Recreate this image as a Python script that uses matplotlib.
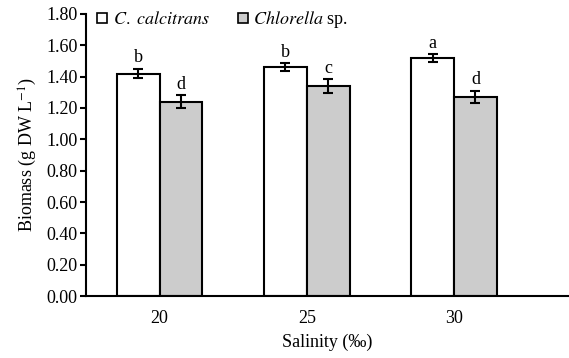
import numpy as np
import matplotlib.pyplot as plt
from matplotlib.lines import Line2D

plt.rcParams['font.family'] = ['Liberation Serif', 'DejaVu Serif']
plt.rcParams['mathtext.fontset'] = 'stix'

salinity = ['20', '25', '30']
calcitrans = [1.42, 1.46, 1.52]
calcitrans_err = [0.03, 0.025, 0.025]
chlorella = [1.24, 1.34, 1.27]
chlorella_err = [0.04, 0.045, 0.04]
calcitrans_letters = ['b', 'b', 'a']
chlorella_letters = ['d', 'c', 'd']

fig = plt.figure(figsize=(5.69, 3.58), dpi=100)
ax = fig.add_axes([0.151, 0.173, 0.849, 0.788])

x = np.arange(len(salinity))
w = 0.29
err_kw = dict(ecolor='black', elinewidth=1.5, capsize=3.5, capthick=1.5)
ax.bar(x - w / 2, calcitrans, w, yerr=calcitrans_err, color='white',
       edgecolor='black', linewidth=1.5, error_kw=err_kw)
ax.bar(x + w / 2, chlorella, w, yerr=chlorella_err, color='#cccccc',
       edgecolor='black', linewidth=1.5, error_kw=err_kw)

for i in range(len(x)):
    ax.text(x[i] - w / 2, calcitrans[i] + calcitrans_err[i] + 0.015,
            calcitrans_letters[i], ha='center', va='bottom', fontsize=13)
    ax.text(x[i] + w / 2, chlorella[i] + chlorella_err[i] + 0.015,
            chlorella_letters[i], ha='center', va='bottom', fontsize=13)

ax.set_xlim(-0.5, 2.78)
ax.set_ylim(0, 1.8)
ax.set_yticks(np.arange(0, 1.81, 0.2))
ax.set_yticklabels([f'{v:.2f}' for v in np.arange(0, 1.81, 0.2)])
ax.set_xticks(x)
ax.set_xticklabels(salinity)
ax.tick_params(axis='x', length=0, labelsize=13, pad=10)
ax.tick_params(axis='y', length=4, width=1.5, labelsize=13, pad=2)
for s in ['top', 'right']:
    ax.spines[s].set_visible(False)
for s in ['left', 'bottom']:
    ax.spines[s].set_linewidth(1.5)

ax.set_xlabel('Salinity (‰)', fontsize=13, labelpad=5)
ax.set_ylabel(r'Biomass (g DW L$^{-1}$)', fontsize=13, labelpad=5)

handles = [
    Line2D([], [], marker='s', linestyle='none', markerfacecolor='white',
           markeredgecolor='black', markeredgewidth=1.2, markersize=7),
    Line2D([], [], marker='s', linestyle='none', markerfacecolor='#cccccc',
           markeredgecolor='black', markeredgewidth=1.2, markersize=7),
]
labels = [r'$\it{C.\ calcitrans}$', r'$\it{Chlorella}$ sp.']
ax.legend(handles, labels, loc='upper left', bbox_to_anchor=(0.0, 1.05),
          ncol=2, frameon=False, fontsize=13, handletextpad=0.2,
          columnspacing=1.4, handlelength=0.8, borderaxespad=0.1)

fig.savefig('out.png', dpi=100)
